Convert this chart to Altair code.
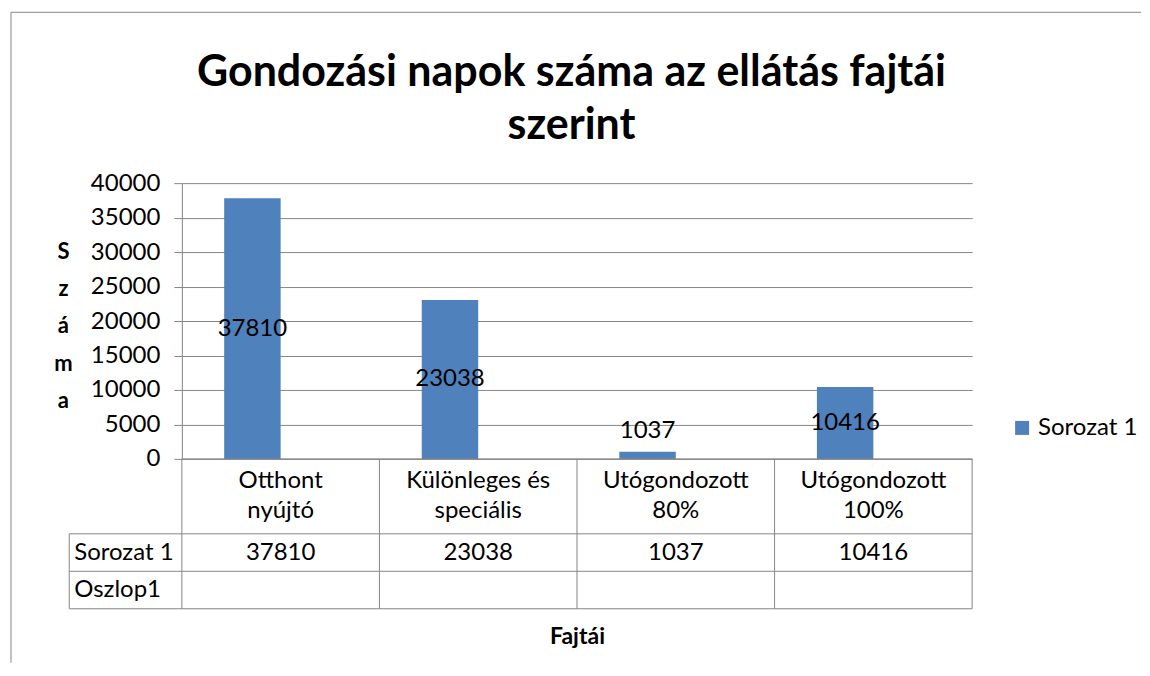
import altair as alt
import pandas as pd

# ---------------- data ----------------
TITLE = ["Gondozási napok száma az ellátás fajtái", "szerint"]
CATEGORY_LABELS = ["Otthont\nnyújtó", "Különleges és\nspeciális", "Utógondozott\n80%", "Utógondozott\n100%"]
SERIES1_NAME = "Sorozat 1"
SERIES1_VALUES = [37810, 23038, 1037, 10416]
SERIES2_NAME = "Oszlop1"
Y_TITLE = ["S", "z", "á", "m", "a"]
X_TITLE = "Fajtái"
Y_TICKS = [0, 5000, 10000, 15000, 20000, 25000, 30000, 35000, 40000]

# ---------------- style / layout ----------------
FONT = "Lato"
BLUE = "#4F81BD"
GRID = "#868686"
W, H = 791, 276
TABLE_H = 150
N = len(CATEGORY_LABELS)
HEADER_W = 0.57          # width of the row-header column, in category units
GAP = 1.5                # Excel gap width 150 %
BAR_W = 1.0 / (2 + GAP)  # two series per category (second is empty)
FS = 24

bars_df = pd.DataFrame({
    "idx": list(range(N)),
    "label": CATEGORY_LABELS,
    "value": SERIES1_VALUES,
    "series": [SERIES1_NAME] * N,
})

x_scale = alt.Scale(domain=[0, N], nice=False, zero=False)
y_scale = alt.Scale(domain=[Y_TICKS[0], Y_TICKS[-1]], nice=False)
ty_scale = alt.Scale(domain=[0, 4], range=[H, H + TABLE_H], nice=False, zero=False)

base = alt.Chart(bars_df)

bars = base.mark_bar().transform_calculate(
    x1=f"datum.idx + 0.5 - {BAR_W}", x2="datum.idx + 0.5"
).encode(
    x=alt.X("x1:Q", scale=x_scale,
            axis=alt.Axis(title=X_TITLE, labels=False, ticks=False, domain=False, grid=False,
                          offset=TABLE_H, titlePadding=17, titleFont=FONT, titleFontSize=23,
                          titleFontWeight="bold", titleColor="black")),
    x2="x2:Q",
    y=alt.Y("value:Q", scale=y_scale,
            axis=alt.Axis(values=Y_TICKS, title=Y_TITLE, titleAngle=0, titleAlign="center",
                          titleBaseline="middle", titleX=-119, titleY=68, titleLineHeight=37.5,
                          titleFont=FONT, titleFontSize=22, titleFontWeight="bold", titleColor="black",
                          labelFont=FONT, labelFontSize=FS, labelColor="black", labelPadding=14,
                          tickSize=8, tickColor=GRID, domainColor=GRID, gridColor=GRID,
                          grid=True, format="d")),
    y2=alt.datum(0),
    color=alt.Color("series:N", scale=alt.Scale(domain=[SERIES1_NAME], range=[BLUE]),
                    legend=alt.Legend(title=None, orient="none", legendX=829, legendY=233,
                                      symbolType="square", symbolSize=196, symbolStrokeWidth=0,
                                      labelFont=FONT, labelFontSize=FS, labelColor="black",
                                      padding=0)),
)

labels = base.mark_text(font=FONT, fontSize=FS, color="black", baseline="middle").transform_calculate(
    xc=f"datum.idx + 0.5 - {BAR_W / 2}", ypos="max(datum.value / 2, 4000)"
).encode(
    x=alt.X("xc:Q", scale=x_scale),
    y=alt.Y("ypos:Q", scale=y_scale, axis=None),
    text=alt.Text("value:Q", format="d"),
)

# ---------------- data table under the plot ----------------
segs = []
segs.append({"x1": 0, "x2": N, "y1": 0, "y2": 0})
for r in (2, 3, 4):
    segs.append({"x1": -HEADER_W, "x2": N, "y1": r, "y2": r})
segs.append({"x1": -HEADER_W, "x2": -HEADER_W, "y1": 2, "y2": 4})
for c in range(N + 1):
    segs.append({"x1": c, "x2": c, "y1": 0, "y2": 4})
seg_df = pd.DataFrame(segs)

table_lines = alt.Chart(seg_df).mark_rule(color=GRID, strokeWidth=1).encode(
    x=alt.X("x1:Q", scale=x_scale),
    x2="x2:Q",
    y=alt.Y("y1:Q", scale=ty_scale, axis=None),
    y2="y2:Q",
)

cat_text = base.mark_text(font=FONT, fontSize=FS, color="black", baseline="middle",
                          lineBreak="\n", lineHeight=30, dy=-15).transform_calculate(
    xc="datum.idx + 0.5", yr="1"
).encode(
    x=alt.X("xc:Q", scale=x_scale),
    y=alt.Y("yr:Q", scale=ty_scale, axis=None),
    text="label:N",
)

val_text = base.mark_text(font=FONT, fontSize=FS, color="black", baseline="middle").transform_calculate(
    xc="datum.idx + 0.5", yr="2.5"
).encode(
    x=alt.X("xc:Q", scale=x_scale),
    y=alt.Y("yr:Q", scale=ty_scale, axis=None),
    text=alt.Text("value:Q", format="d"),
)

row_df = pd.DataFrame({"name": [SERIES1_NAME, SERIES2_NAME], "row": [2.5, 3.5]})
row_text = alt.Chart(row_df).mark_text(font=FONT, fontSize=FS, color="black", baseline="middle",
                                       align="left", dx=5).transform_calculate(
    xh=f"{-HEADER_W}"
).encode(
    x=alt.X("xh:Q", scale=x_scale),
    y=alt.Y("row:Q", scale=ty_scale, axis=None),
    text="name:N",
)

# ---------------- chart title (two lines) ----------------
title_df = pd.DataFrame({"t": ["\n".join(TITLE)]})
title = alt.Chart(title_df).mark_text(font=FONT, fontSize=43, fontWeight="bold", color="black",
                                      align="center", baseline="middle", lineBreak="\n",
                                      lineHeight=53).encode(
    x=alt.value(390), y=alt.value(-110), text="t:N"
)

# ---------------- chart-area frame (top and left border) ----------------
frame_df = pd.DataFrame({"k": [0]})
frame_top = alt.Chart(frame_df).mark_rule(color=GRID, strokeWidth=1).encode(
    x=alt.value(-171), x2=alt.value(960), y=alt.value(-171)
)
frame_left = alt.Chart(frame_df).mark_rule(color=GRID, strokeWidth=1).encode(
    x=alt.value(-171), y=alt.value(-171), y2=alt.value(480)
)

chart = alt.layer(
    bars, labels, table_lines, cat_text, val_text, row_text, title, frame_top, frame_left
).resolve_scale(
    y="independent"
).properties(
    width=W, height=H,
    padding={"left": 2, "top": 3, "right": 0, "bottom": 0},
).configure(
    font=FONT
).configure_view(
    stroke=None
)

chart.save("out.html", embed_options={"renderer": "svg", "actions": False})
